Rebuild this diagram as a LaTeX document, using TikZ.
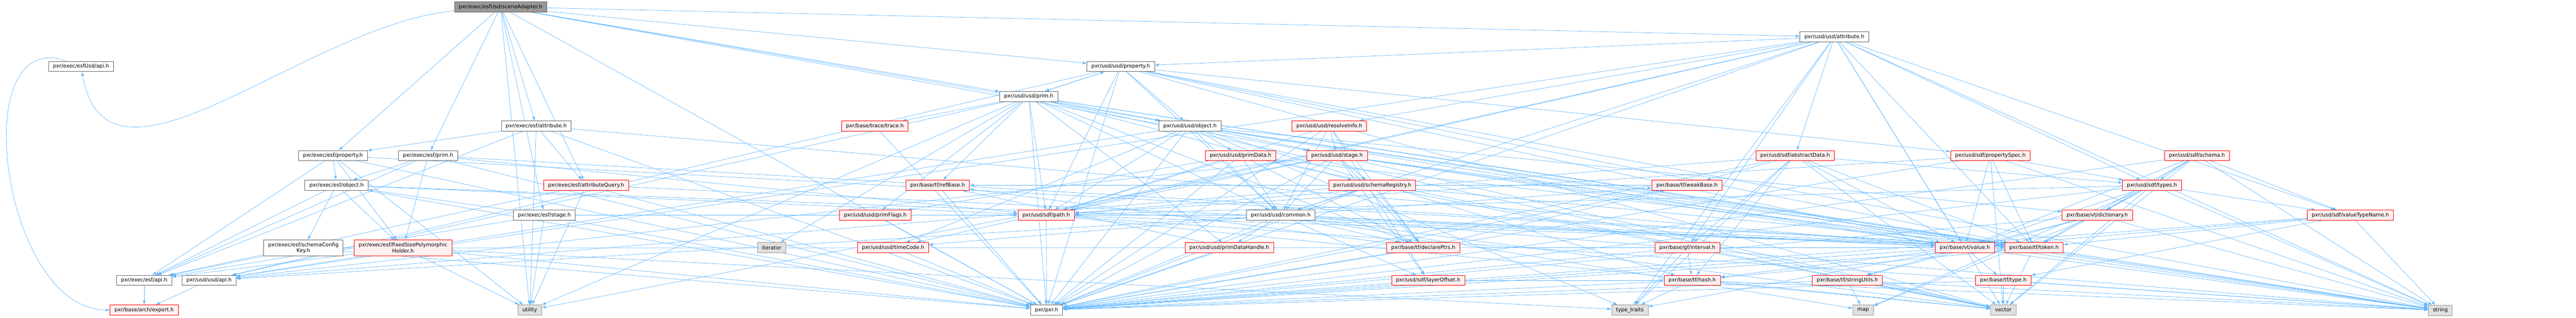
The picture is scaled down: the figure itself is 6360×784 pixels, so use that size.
\documentclass[tikz,border=0pt]{standalone}
\usepackage{fontspec}
\setmainfont{DejaVu Sans}
\usepackage{tikz}
\usetikzlibrary{arrows.meta}
\pgfdeclarelayer{edgelayer}
\pgfdeclarelayer{nodelayer}
\pgfsetlayers{edgelayer,nodelayer,main}
\definecolor{edgeblue}{HTML}{63B8FF}
\definecolor{boxgray}{HTML}{666666}
\definecolor{truncred}{HTML}{FF0000}
\definecolor{truncfill}{HTML}{FFF0F0}
\definecolor{sysfill}{HTML}{E0E0E0}
\definecolor{sysgray}{HTML}{999999}
\definecolor{rootfill}{HTML}{999999}
\tikzstyle{hdr}=[rectangle, draw=boxgray, fill=white, line width=1pt, minimum height=25pt, inner xsep=11pt, inner ysep=2pt, font=\fontsize{12.8}{15}\selectfont, align=center]
\tikzstyle{hdrcut}=[hdr, draw=truncred, fill=truncfill]
\tikzstyle{hdrsys}=[hdr, draw=sysgray, fill=sysfill]
\tikzstyle{hdrroot}=[hdr, fill=rootfill]
\tikzstyle{incl}=[-{Latex[length=10pt,width=7pt]}, draw=edgeblue, line width=0.9pt]

\begin{document}
\begin{tikzpicture}[x=1pt, y=-1pt]
	\useasboundingbox (0, 0) rectangle (6360, 784);
	\begin{pgfonlayer}{nodelayer}
		\node [style=hdrroot] (0) at (1236, 17) {pxr/exec/esfUsd/sceneAdapter.h};
		\node [style=hdr] (1) at (200, 164) {pxr/exec/esfUsd/api.h};
		\node [style=hdr] (2) at (356, 692) {pxr/exec/esf/api.h};
		\node [style=hdr] (3) at (516, 692) {pxr/usd/usd/api.h};
		\node [style=hdrcut] (4) at (356, 765) {pxr/base/arch/export.h};
		\node [style=hdr] (5) at (822, 384) {pxr/exec/esf/property.h};
		\node [style=hdr] (6) at (1057, 384) {pxr/exec/esf/prim.h};
		\node [style=hdr] (7) at (831, 457) {pxr/exec/esf/object.h};
		\node [style=hdr, minimum height=39pt] (8) at (749, 612) {pxr/exec/esf/schemaConfig\\Key.h};
		\node [style=hdrcut, minimum height=39pt] (9) at (995, 612) {pxr/exec/esf/fixedSizePolymorphic\\Holder.h};
		\node [style=hdr] (10) at (1324, 311) {pxr/exec/esf/attribute.h};
		\node [style=hdr] (11) at (1344, 531) {pxr/exec/esf/stage.h};
		\node [style=hdrsys] (12) at (1308, 765) {utility};
		\node [style=hdrcut] (13) at (1447, 457) {pxr/exec/esf/attributeQuery.h};
		\node [style=hdrsys] (14) at (1905, 611) {iterator};
		\node [style=hdr] (15) at (2540, 238) {pxr/usd/usd/prim.h};
		\node [style=hdrcut] (16) at (2160, 311) {pxr/base/trace/trace.h};
		\node [style=hdrcut] (17) at (2315, 457) {pxr/base/tf/refBase.h};
		\node [style=hdrcut] (18) at (2161, 531) {pxr/usd/usd/primFlags.h};
		\node [style=hdrcut] (19) at (2205, 611) {pxr/usd/usd/timeCode.h};
		\node [style=hdrcut] (20) at (2583, 531) {pxr/usd/sdf/path.h};
		\node [style=hdr] (21) at (2584, 765) {pxr/pxr.h};
		\node [style=hdr] (22) at (2767, 164) {pxr/usd/usd/property.h};
		\node [style=hdr] (23) at (2938, 311) {pxr/usd/usd/object.h};
		\node [style=hdrcut] (24) at (3063, 384) {pxr/usd/usd/primData.h};
		\node [style=hdr] (25) at (3162, 531) {pxr/usd/usd/common.h};
		\node [style=hdrcut] (26) at (3035, 611) {pxr/usd/usd/primDataHandle.h};
		\node [style=hdrcut] (27) at (3282, 311) {pxr/usd/usd/resolveInfo.h};
		\node [style=hdrcut] (28) at (3301, 384) {pxr/usd/usd/stage.h};
		\node [style=hdrcut] (29) at (3388, 457) {pxr/usd/usd/schemaRegistry.h};
		\node [style=hdrcut] (30) at (3514, 611) {pxr/base/tf/declarePtrs.h};
		\node [style=hdrcut] (31) at (3526, 692) {pxr/usd/sdf/layerOffset.h};
		\node [style=hdr] (32) at (4529, 91) {pxr/usd/usd/attribute.h};
		\node [style=hdrcut] (33) at (4432, 384) {pxr/usd/sdf/abstractData.h};
		\node [style=hdrcut] (34) at (4165, 457) {pxr/base/tf/weakBase.h};
		\node [style=hdrcut] (35) at (4166, 611) {pxr/base/gf/interval.h};
		\node [style=hdrcut] (36) at (4178, 692) {pxr/base/tf/hash.h};
		\node [style=hdrsys] (37) at (4024, 765) {type\_traits};
		\node [style=hdrcut] (38) at (4561, 692) {pxr/base/tf/stringUtils.h};
		\node [style=hdrcut] (39) at (4914, 384) {pxr/usd/sdf/propertySpec.h};
		\node [style=hdrcut] (40) at (4851, 611) {pxr/base/vt/value.h};
		\node [style=hdrcut] (41) at (5022, 611) {pxr/base/tf/token.h};
		\node [style=hdrcut] (42) at (4946, 692) {pxr/base/tf/type.h};
		\node [style=hdrsys] (43) at (4600, 765) {map};
		\node [style=hdrsys] (44) at (4946, 765) {vector};
		\node [style=hdrcut] (45) at (5178, 531) {pxr/base/vt/dictionary.h};
		\node [style=hdrcut] (46) at (5424, 384) {pxr/usd/sdf/schema.h};
		\node [style=hdrcut] (47) at (5313, 457) {pxr/usd/sdf/types.h};
		\node [style=hdrcut] (48) at (5803, 531) {pxr/usd/sdf/valueTypeName.h};
		\node [style=hdrsys] (49) at (6025, 766) {string};
	\end{pgfonlayer}
	\begin{pgfonlayer}{edgelayer}
		\draw [style=incl] (0) to [out=185, in=-80] (1);
		\draw [style=incl] (0) to (5);
		\draw [style=incl] (0) to (6);
		\draw [style=incl] (0) to (10);
		\draw [style=incl] (0) to (11);
		\draw [style=incl] (0) to (13);
		\draw [style=incl] (0) to (15);
		\draw [style=incl] (0) to (22);
		\draw [style=incl] (0) to (23);
		\draw [style=incl] (0) to (28);
		\draw [style=incl] (0) to (32);
		\draw [style=incl] (0) to (21);
		\draw [style=incl] (0) to (12);
		\draw [style=incl] (1) to [out=160, in=180, looseness=1.1] (4);
		\draw [style=incl] (2) to (4);
		\draw [style=incl] (3) to (4);
		\draw [style=incl] (5) to (7);
		\draw [style=incl] (5) to (9);
		\draw [style=incl] (5) to (2);
		\draw [style=incl] (5) to (21);
		\draw [style=incl] (5) to (41);
		\draw [style=incl] (5) to (12);
		\draw [style=incl] (6) to (7);
		\draw [style=incl] (6) to (9);
		\draw [style=incl] (6) to (2);
		\draw [style=incl] (6) to (21);
		\draw [style=incl] (6) to (41);
		\draw [style=incl] (6) to (20);
		\draw [style=incl] (7) to (8);
		\draw [style=incl] (7) to (9);
		\draw [style=incl] (7) to (2);
		\draw [style=incl] (7) to (21);
		\draw [style=incl] (7) to (20);
		\draw [style=incl] (7) to (41);
		\draw [style=incl] (8) to (2);
		\draw [style=incl] (8) to (21);
		\draw [style=incl] (8) to (41);
		\draw [style=incl] (9) to (2);
		\draw [style=incl] (9) to (12);
		\draw [style=incl] (9) to (21);
		\draw [style=incl] (9) to (37);
		\draw [style=incl] (10) to (13);
		\draw [style=incl] (10) to (5);
		\draw [style=incl] (10) to (2);
		\draw [style=incl] (10) to (21);
		\draw [style=incl] (10) to (40);
		\draw [style=incl] (10) to (12);
		\draw [style=incl] (11) to (12);
		\draw [style=incl] (11) to (2);
		\draw [style=incl] (11) to (21);
		\draw [style=incl] (11) to (20);
		\draw [style=incl] (11) to (7);
		\draw [style=incl] (13) to (2);
		\draw [style=incl] (13) to (21);
		\draw [style=incl] (13) to (40);
		\draw [style=incl] (13) to (12);
		\draw [style=incl] (15) to (3);
		\draw [style=incl] (15) to (22);
		\draw [style=incl] (15) to (23);
		\draw [style=incl] (15) to (25);
		\draw [style=incl] (15) to (18);
		\draw [style=incl] (15) to (29);
		\draw [style=incl] (15) to (16);
		\draw [style=incl] (15) to (17);
		\draw [style=incl] (15) to (30);
		\draw [style=incl] (15) to (20);
		\draw [style=incl] (15) to (14);
		\draw [style=incl] (15) to (12);
		\draw [style=incl] (15) to (44);
		\draw [style=incl] (15) to (49);
		\draw [style=incl] (15) to (26);
		\draw [style=incl] (15) to (21);
		\draw [style=incl] (15) to (41);
		\draw [style=incl] (16) to (21);
		\draw [style=incl] (17) to (21);
		\draw [style=incl] (18) to (21);
		\draw [style=incl] (19) to (21);
		\draw [style=incl] (20) to (21);
		\draw [style=incl] (20) to (41);
		\draw [style=incl] (20) to (44);
		\draw [style=incl] (20) to (49);
		\draw [style=incl] (22) to (3);
		\draw [style=incl] (22) to (15);
		\draw [style=incl] (22) to (23);
		\draw [style=incl] (22) to (25);
		\draw [style=incl] (22) to (20);
		\draw [style=incl] (22) to (39);
		\draw [style=incl] (22) to (41);
		\draw [style=incl] (22) to (40);
		\draw [style=incl] (22) to (44);
		\draw [style=incl] (22) to (49);
		\draw [style=incl] (22) to (21);
		\draw [style=incl] (23) to (3);
		\draw [style=incl] (23) to (24);
		\draw [style=incl] (23) to (25);
		\draw [style=incl] (23) to (28);
		\draw [style=incl] (23) to (20);
		\draw [style=incl] (23) to (45);
		\draw [style=incl] (23) to (40);
		\draw [style=incl] (23) to (41);
		\draw [style=incl] (23) to (36);
		\draw [style=incl] (23) to (37);
		\draw [style=incl] (23) to (49);
		\draw [style=incl] (23) to (21);
		\draw [style=incl] (23) to (19);
		\draw [style=incl] (24) to (25);
		\draw [style=incl] (24) to (18);
		\draw [style=incl] (24) to (20);
		\draw [style=incl] (24) to (30);
		\draw [style=incl] (24) to (41);
		\draw [style=incl] (24) to (21);
		\draw [style=incl] (24) to (44);
		\draw [style=incl] (25) to (3);
		\draw [style=incl] (25) to (26);
		\draw [style=incl] (25) to (30);
		\draw [style=incl] (25) to (20);
		\draw [style=incl] (25) to (31);
		\draw [style=incl] (25) to (41);
		\draw [style=incl] (25) to (40);
		\draw [style=incl] (25) to (21);
		\draw [style=incl] (25) to (49);
		\draw [style=incl] (25) to (43);
		\draw [style=incl] (25) to (44);
		\draw [style=incl] (25) to (19);
		\draw [style=incl] (25) to (34);
		\draw [style=incl] (26) to (21);
		\draw [style=incl] (26) to (17);
		\draw [style=incl] (27) to (28);
		\draw [style=incl] (27) to (30);
		\draw [style=incl] (27) to (31);
		\draw [style=incl] (27) to (21);
		\draw [style=incl] (27) to (25);
		\draw [style=incl] (27) to (20);
		\draw [style=incl] (28) to (29);
		\draw [style=incl] (28) to (30);
		\draw [style=incl] (28) to (25);
		\draw [style=incl] (28) to (3);
		\draw [style=incl] (28) to (21);
		\draw [style=incl] (28) to (20);
		\draw [style=incl] (28) to (31);
		\draw [style=incl] (28) to (41);
		\draw [style=incl] (28) to (40);
		\draw [style=incl] (28) to (12);
		\draw [style=incl] (28) to (49);
		\draw [style=incl] (28) to (44);
		\draw [style=incl] (29) to (25);
		\draw [style=incl] (29) to (30);
		\draw [style=incl] (29) to (41);
		\draw [style=incl] (29) to (21);
		\draw [style=incl] (29) to (3);
		\draw [style=incl] (29) to (44);
		\draw [style=incl] (30) to (21);
		\draw [style=incl] (30) to (34);
		\draw [style=incl] (30) to (17);
		\draw [style=incl] (31) to (21);
		\draw [style=incl] (31) to (36);
		\draw [style=incl] (32) to (3);
		\draw [style=incl] (32) to (22);
		\draw [style=incl] (32) to (25);
		\draw [style=incl] (32) to (27);
		\draw [style=incl] (32) to (33);
		\draw [style=incl] (32) to (35);
		\draw [style=incl] (32) to (40);
		\draw [style=incl] (32) to (41);
		\draw [style=incl] (32) to (47);
		\draw [style=incl] (32) to (48);
		\draw [style=incl] (32) to (19);
		\draw [style=incl] (32) to (37);
		\draw [style=incl] (32) to (44);
		\draw [style=incl] (32) to (49);
		\draw [style=incl] (32) to (21);
		\draw [style=incl] (32) to (20);
		\draw [style=incl] (33) to (34);
		\draw [style=incl] (33) to (35);
		\draw [style=incl] (33) to (36);
		\draw [style=incl] (33) to (37);
		\draw [style=incl] (33) to (40);
		\draw [style=incl] (33) to (41);
		\draw [style=incl] (33) to (20);
		\draw [style=incl] (33) to (47);
		\draw [style=incl] (33) to (44);
		\draw [style=incl] (33) to (21);
		\draw [style=incl] (34) to (21);
		\draw [style=incl] (34) to (17);
		\draw [style=incl] (35) to (36);
		\draw [style=incl] (35) to (21);
		\draw [style=incl] (35) to (37);
		\draw [style=incl] (36) to (37);
		\draw [style=incl] (36) to (21);
		\draw [style=incl] (36) to (44);
		\draw [style=incl] (36) to (49);
		\draw [style=incl] (38) to (21);
		\draw [style=incl] (38) to (43);
		\draw [style=incl] (38) to (44);
		\draw [style=incl] (38) to (49);
		\draw [style=incl] (39) to (40);
		\draw [style=incl] (39) to (41);
		\draw [style=incl] (39) to (47);
		\draw [style=incl] (39) to (21);
		\draw [style=incl] (39) to (44);
		\draw [style=incl] (39) to (49);
		\draw [style=incl] (39) to (20);
		\draw [style=incl] (40) to (42);
		\draw [style=incl] (40) to (38);
		\draw [style=incl] (40) to (36);
		\draw [style=incl] (40) to (21);
		\draw [style=incl] (40) to (37);
		\draw [style=incl] (40) to (49);
		\draw [style=incl] (41) to (21);
		\draw [style=incl] (41) to (36);
		\draw [style=incl] (41) to (44);
		\draw [style=incl] (41) to (49);
		\draw [style=incl] (42) to (44);
		\draw [style=incl] (42) to (21);
		\draw [style=incl] (42) to (49);
		\draw [style=incl] (45) to (40);
		\draw [style=incl] (45) to (38);
		\draw [style=incl] (45) to (43);
		\draw [style=incl] (45) to (49);
		\draw [style=incl] (45) to (21);
		\draw [style=incl] (46) to (47);
		\draw [style=incl] (46) to (48);
		\draw [style=incl] (46) to (45);
		\draw [style=incl] (46) to (41);
		\draw [style=incl] (46) to (40);
		\draw [style=incl] (46) to (21);
		\draw [style=incl] (46) to (44);
		\draw [style=incl] (46) to (49);
		\draw [style=incl] (47) to (45);
		\draw [style=incl] (47) to (48);
		\draw [style=incl] (47) to (20);
		\draw [style=incl] (47) to (40);
		\draw [style=incl] (47) to (41);
		\draw [style=incl] (47) to (21);
		\draw [style=incl] (47) to (44);
		\draw [style=incl] (47) to (49);
		\draw [style=incl] (47) to (43);
		\draw [style=incl] (48) to (41);
		\draw [style=incl] (48) to (49);
		\draw [style=incl] (48) to (21);
		\draw [style=incl] (48) to (40);
		\draw [style=incl] (48) to (42);
	\end{pgfonlayer}
\end{tikzpicture}
\end{document}
